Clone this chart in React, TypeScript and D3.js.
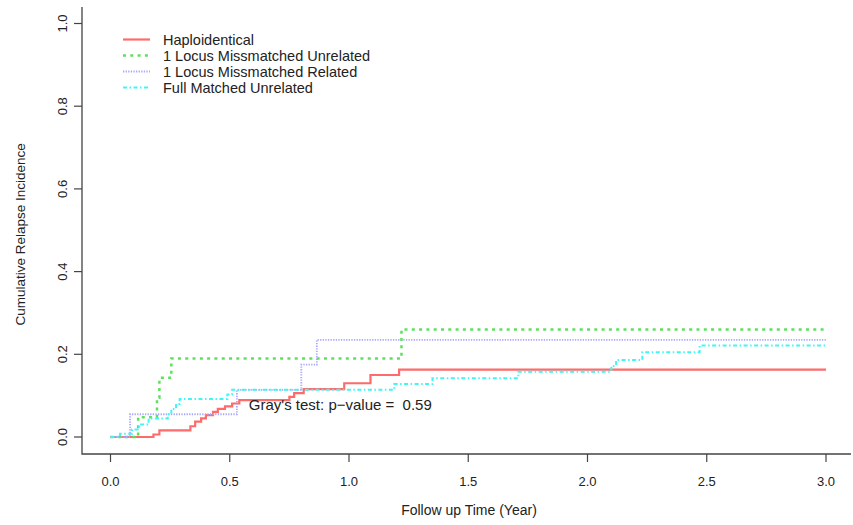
import React, { useEffect, useRef } from 'react'
import * as d3 from 'd3'

// cumulative incidence step data
const hapTime = [0, 0.18, 0.205, 0.335, 0.355, 0.38, 0.4, 0.43, 0.45, 0.48, 0.51, 0.54, 0.75, 0.77, 0.81, 0.98, 1.09, 1.21, 3.0]
const hapCif = [0, 0.006, 0.016, 0.026, 0.037, 0.045, 0.053, 0.061, 0.068, 0.074, 0.081, 0.089, 0.097, 0.106, 0.116, 0.13, 0.15, 0.163, 0.163]

const mmuTime = [0, 0.116, 0.195, 0.205, 0.255, 1.22, 3.0]
const mmuCif = [0, 0.048, 0.095, 0.143, 0.19, 0.26, 0.26]

const mmrTime = [0, 0.082, 0.53, 0.8, 0.865, 3.0]
const mmrCif = [0, 0.055, 0.114, 0.175, 0.235, 0.235]

const fmuTime = [0, 0.04, 0.09, 0.12, 0.16, 0.24, 0.255, 0.275, 0.29, 0.49, 0.51, 1.19, 1.35, 1.71, 2.1, 2.12, 2.23, 2.47, 3.0]
const fmuCif = [0, 0.008, 0.018, 0.03, 0.045, 0.055, 0.068, 0.08, 0.092, 0.103, 0.114, 0.128, 0.142, 0.158, 0.172, 0.186, 0.205, 0.221, 0.221]

const seriesNames = ['Haploidentical', '1 Locus Missmatched Unrelated', '1 Locus Missmatched Related', 'Full Matched Unrelated']
const xTicks = [0, 0.5, 1, 1.5, 2, 2.5, 3]
const yTicks = [0, 0.2, 0.4, 0.6, 0.8, 1]

const styles = [
  { color: '#ff6b6b', width: 2.2, dash: null },
  { color: '#5ee05e', width: 2.5, dash: '3 4.3' },
  { color: '#a8a8ff', width: 1.8, dash: '1.3 1.3' },
  { color: '#40f5f5', width: 2, dash: '4 2.5 1.5 2.5' },
]

export default function App() {
  const svgRef = useRef(null)
  const width = 853
  const height = 525

  useEffect(() => {
    const svg = d3.select(svgRef.current)
    svg.selectAll('*').remove()

    const x = d3.scaleLinear().domain([0, 3]).range([110.5, 826])
    const y = d3.scaleLinear().domain([0, 1]).range([437, 23.5])
    const font = 'Liberation Sans, Arial, sans-serif'
    const ink = '#222'

    const series = [
      { t: hapTime, v: hapCif },
      { t: mmuTime, v: mmuCif },
      { t: mmrTime, v: mmrCif },
      { t: fmuTime, v: fmuCif },
    ]

    // L-shaped frame
    svg.append('path')
      .attr('d', 'M82,7 V454 H851')
      .attr('fill', 'none')
      .attr('stroke', '#444')
      .attr('stroke-width', 1.3)

    // x axis ticks
    const xg = svg.append('g')
    xTicks.forEach(t => {
      xg.append('line')
        .attr('x1', x(t)).attr('x2', x(t))
        .attr('y1', 454).attr('y2', 462)
        .attr('stroke', '#444').attr('stroke-width', 1.2)
      xg.append('text')
        .attr('x', x(t)).attr('y', 486)
        .attr('text-anchor', 'middle')
        .attr('font-family', font).attr('font-size', 13)
        .attr('fill', ink)
        .text(d3.format('.1f')(t))
    })

    // y axis ticks
    const yg = svg.append('g')
    yTicks.forEach(v => {
      yg.append('line')
        .attr('x1', 82).attr('x2', 74)
        .attr('y1', y(v)).attr('y2', y(v))
        .attr('stroke', '#444').attr('stroke-width', 1.2)
      yg.append('text')
        .attr('transform', `translate(67,${y(v)}) rotate(-90)`)
        .attr('text-anchor', 'middle')
        .attr('font-family', font).attr('font-size', 13)
        .attr('fill', ink)
        .text(d3.format('.1f')(v))
    })

    // axis titles
    svg.append('text')
      .attr('x', 469).attr('y', 515)
      .attr('text-anchor', 'middle')
      .attr('font-family', font).attr('font-size', 14)
      .attr('fill', ink)
      .text('Follow up Time (Year)')

    svg.append('text')
      .attr('transform', `translate(25,${y(0.49)}) rotate(-90)`)
      .attr('text-anchor', 'middle')
      .attr('font-family', font).attr('font-size', 13.5)
      .attr('fill', ink)
      .text('Cumulative Relapse Incidence')

    // step curves
    const line = d3.line()
      .x(d => x(d[0]))
      .y(d => y(d[1]))
      .curve(d3.curveStepAfter)

    series.forEach((s, i) => {
      const pts = s.t.map((t, j) => [t, s.v[j]])
      const st = styles[i]
      svg.append('path')
        .datum(pts)
        .attr('d', line)
        .attr('fill', 'none')
        .attr('stroke', st.color)
        .attr('stroke-width', st.width)
        .attr('stroke-dasharray', st.dash)
    })

    // Gray's test label
    svg.append('text')
      .attr('x', x(0.58)).attr('y', 410)
      .attr('font-family', font).attr('font-size', 15)
      .attr('fill', ink)
      .style('white-space', 'pre')
      .text("Gray's test: p\u2212value =  0.59")

    // legend
    const lg = svg.append('g')
    seriesNames.forEach((name, i) => {
      const ly = 39.5 + i * 16
      const st = styles[i]
      lg.append('line')
        .attr('x1', 123).attr('x2', 150)
        .attr('y1', ly).attr('y2', ly)
        .attr('stroke', st.color)
        .attr('stroke-width', st.width)
        .attr('stroke-dasharray', st.dash)
      lg.append('text')
        .attr('x', 163).attr('y', ly + 5)
        .attr('font-family', font).attr('font-size', 14.5)
        .attr('fill', ink)
        .text(name)
    })
  }, [])

  return (
    <div style={{ position: 'absolute', left: 0, top: 0, background: '#fff' }}>
      <svg ref={svgRef} width={width} height={height} style={{ display: 'block' }}></svg>
    </div>
  )
}
